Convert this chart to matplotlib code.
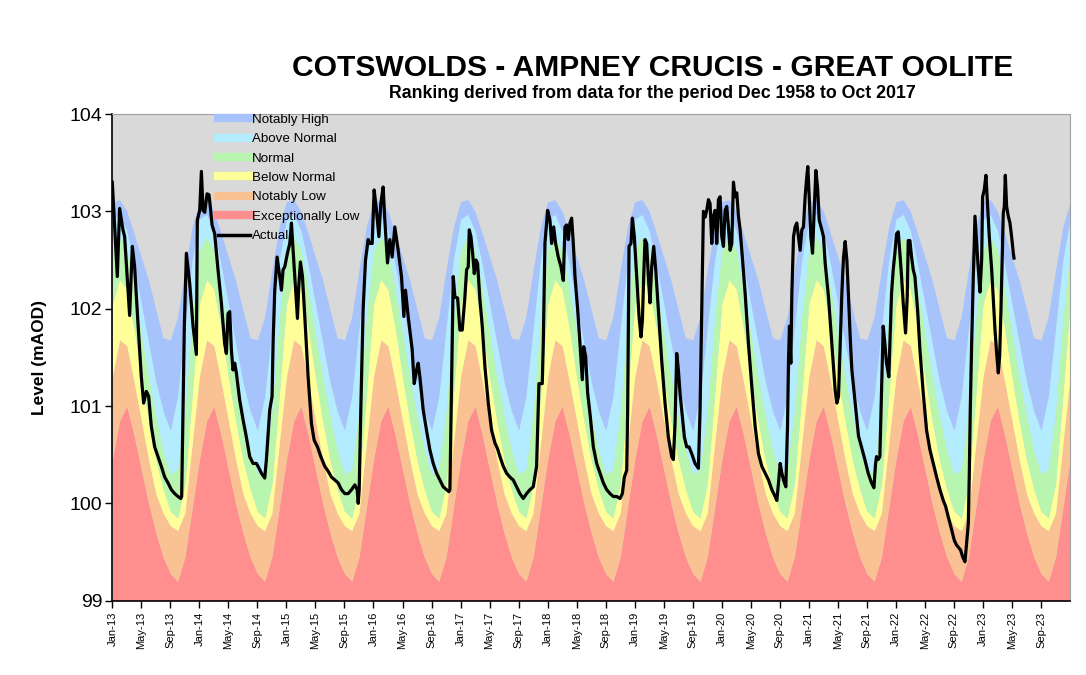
import numpy as np
import matplotlib.pyplot as plt
from matplotlib.lines import Line2D

plt.rcParams['font.family'] = ['Liberation Sans', 'DejaVu Sans']

# band upper limits (mAOD) at the start of each month, Jan..Dec (same every year)
el_top = [100.45, 100.85, 101.00, 100.70, 100.35, 100.00, 99.70, 99.45, 99.28, 99.20, 99.45, 99.95]
nl_top = [101.30, 101.68, 101.62, 101.25, 100.85, 100.45, 100.10, 99.90, 99.77, 99.72, 99.90, 100.60]
bn_top = [102.05, 102.30, 102.20, 101.80, 101.30, 100.85, 100.45, 100.15, 99.92, 99.85, 100.20, 101.10]
n_top = [102.60, 102.74, 102.60, 102.20, 101.75, 101.30, 100.90, 100.55, 100.30, 100.35, 100.95, 101.90]
an_top = [102.92, 102.97, 102.80, 102.45, 102.05, 101.65, 101.25, 100.95, 100.75, 101.10, 101.80, 102.50]
nh_top = [103.10, 103.12, 103.00, 102.77, 102.53, 102.29, 101.99, 101.70, 101.68, 101.92, 102.40, 102.84]
n_years = 11

# actual level: months since Jan 2013, level (mAOD)
actual_month = [
    0.00, 0.69, 1.01, 1.47, 1.70, 2.39, 2.76, 3.08, 3.54, 4.00, 4.32, 4.69, 5.01, 5.38, 5.84,
    6.30, 6.76, 7.22, 7.68, 8.14, 8.60, 9.06, 9.43, 9.56, 9.93, 10.21, 10.67, 11.13, 11.59, 11.72,
    12.05, 12.28, 12.51, 12.74, 13.06, 13.33, 13.56, 13.75, 14.11, 14.57, 15.03, 15.49, 15.72, 15.95,
    16.18, 16.41, 16.64, 16.87, 17.10, 17.56, 18.02, 18.48, 18.94, 19.40, 19.86,
    20.09, 20.55, 21.01, 21.24, 21.70, 22.02, 22.16, 22.39, 22.71, 23.08, 23.31, 23.54, 23.77, 24.14,
    24.46, 24.69, 24.92, 25.24, 25.52, 25.70, 25.93, 26.21, 26.53, 26.99, 27.45, 27.82, 28.28, 28.74,
    29.29, 29.75, 30.21, 30.67, 31.13, 31.59, 32.05, 32.51, 32.97, 33.43, 33.75, 33.89, 34.03, 34.25,
    34.57, 34.90, 35.26, 35.49, 35.82, 36.09, 36.41, 36.74, 37.01, 37.33, 37.56, 37.93, 38.25, 38.57,
    38.94, 39.40, 39.86, 40.18, 40.41, 40.78,
    41.33, 41.61, 41.93, 42.16, 42.39, 42.85, 43.31, 43.77, 44.23, 44.69, 45.15, 45.61, 46.07, 46.39,
    46.53, 46.99, 47.22, 47.59, 47.91, 48.23, 48.60, 48.83, 49.06, 49.20, 49.43, 49.66, 49.89, 50.11,
    50.34, 50.67, 50.99, 51.36, 51.82, 52.28, 52.74, 53.10, 53.43, 53.89, 54.34, 54.80, 55.26, 55.72,
    56.18, 56.64, 57.10, 57.56, 58.02, 58.48, 58.80, 59.26, 59.40, 59.63, 60.00, 60.32, 60.55, 60.83,
    61.10, 61.47,
    61.84, 62.16, 62.39, 62.62, 62.85, 63.08, 63.31, 63.54, 63.77, 64.14, 64.46, 64.78, 64.97, 65.24,
    65.52, 65.84, 66.30, 66.76, 67.22, 67.68, 68.14, 68.60, 69.06, 69.52, 69.98, 70.30, 70.57, 70.90,
    71.03, 71.22, 71.49, 71.68, 71.95, 72.28, 72.60, 72.87, 73.06, 73.24, 73.42, 73.65, 73.88, 74.11,
    74.34, 74.62, 74.90, 75.26, 75.72, 76.18, 76.64, 77.10, 77.33, 77.56, 77.79, 78.02, 78.25, 78.57,
    78.85, 79.17, 79.49, 79.86, 80.32, 80.78, 81.01, 81.24, 81.47, 81.70, 81.93, 82.16,
    82.39, 82.62, 82.85, 83.08, 83.31, 83.54, 83.77, 84.00, 84.23, 84.46, 84.69, 84.92, 85.15, 85.38,
    85.61, 85.84, 86.07, 86.30, 86.53, 86.76, 87.22, 87.68, 88.14, 88.60, 89.06, 89.52, 89.98, 90.44,
    90.90, 91.36, 91.59, 91.82, 92.05, 92.28, 92.51, 92.83, 93.06, 93.20, 93.33, 93.52, 93.66, 93.89,
    94.11, 94.34, 94.57, 94.80, 95.03, 95.26, 95.49, 95.72, 95.86, 96.05, 96.28, 96.51, 96.74, 96.97,
    97.20, 97.43, 97.79, 98.02, 98.25, 98.71, 99.17, 99.63, 99.86, 100.09, 100.32, 100.55, 100.78,
    101.01, 101.24, 101.47, 101.70, 101.93, 102.39, 102.85,
    103.26, 103.72, 104.18, 104.64, 104.97, 105.20, 105.33, 105.56, 105.79, 106.02, 106.25, 106.48,
    106.71, 107.03, 107.17, 107.40, 107.63, 107.86, 108.09, 108.32, 108.55, 108.78, 109.01, 109.33,
    109.56, 109.70, 109.93, 110.16, 110.39, 110.62, 110.99, 111.31, 111.77, 112.23, 112.69, 113.15,
    113.61, 114.07, 114.53, 114.85, 115.22, 115.68, 116.05, 116.37, 116.60, 116.92, 117.20, 117.52,
    117.75, 117.98, 118.11, 118.25, 118.44, 118.67, 118.90, 119.13, 119.36, 119.59, 119.82, 119.95,
    120.18, 120.41, 120.64, 120.87, 121.20, 121.43, 121.66, 121.89, 122.11, 122.30, 122.48, 122.67,
    122.80, 122.94, 123.08, 123.26, 123.49, 123.72, 123.95, 124.18, 124.28,
]
actual_level = [
    103.30, 102.33, 103.03, 102.81, 102.74, 101.93, 102.64, 102.43, 101.85, 101.30, 101.03, 101.15,
    101.10, 100.79, 100.58, 100.48, 100.38, 100.27, 100.21, 100.14, 100.10, 100.07, 100.05, 100.07,
    101.82, 102.57, 102.26, 101.82, 101.53, 102.91, 103.01, 103.41, 103.01, 102.99, 103.18, 103.17,
    103.01, 102.86, 102.77, 102.40, 102.06, 101.64, 101.54, 101.95, 101.97, 101.58, 101.37, 101.44,
    101.34, 101.06, 100.86, 100.68, 100.48, 100.41, 100.41,
    100.38, 100.31, 100.26, 100.45, 100.96, 101.10, 101.64, 102.19, 102.53, 102.33, 102.19, 102.40,
    102.43, 102.57, 102.67, 102.88, 102.60, 102.23, 101.90, 102.23, 102.48, 102.33, 101.92, 101.30,
    100.82, 100.65, 100.58, 100.48, 100.38, 100.33, 100.27, 100.24, 100.21, 100.14, 100.10, 100.10,
    100.14, 100.19, 100.14, 100.00, 100.14, 100.96, 101.99, 102.50, 102.71, 102.67, 102.67, 103.22,
    103.01, 102.74, 103.08, 103.25, 102.91, 102.47, 102.71, 102.53, 102.84, 102.60, 102.33, 101.92,
    102.19, 101.92,
    101.58, 101.23, 101.37, 101.44, 101.30, 100.96, 100.75, 100.55, 100.41, 100.31, 100.24, 100.17,
    100.14, 100.12, 100.14, 102.33, 102.12, 102.11, 101.78, 101.78, 102.12, 102.40, 102.43, 102.81,
    102.74, 102.57, 102.36, 102.50, 102.47, 102.09, 101.82, 101.40, 101.03, 100.75, 100.62, 100.56,
    100.48, 100.38, 100.31, 100.27, 100.24, 100.17, 100.10, 100.05, 100.10, 100.14, 100.17, 100.38,
    101.23, 101.23, 101.64, 102.67, 103.01, 102.91, 102.67, 102.84, 102.67, 102.53,
    102.43, 102.29, 102.84, 102.86, 102.71, 102.88, 102.93, 102.67, 102.33, 101.99, 101.64, 101.27,
    101.61, 101.51, 101.13, 100.92, 100.58, 100.41, 100.31, 100.21, 100.14, 100.10, 100.07, 100.07,
    100.05, 100.10, 100.27, 100.34, 100.96, 102.64, 102.67, 102.93, 102.74, 102.33, 101.92, 101.71,
    101.88, 102.33, 102.71, 102.67, 102.33, 102.06, 102.43, 102.64, 102.40, 101.99, 101.47, 101.03,
    100.68, 100.48, 100.45, 100.82, 101.54, 101.37, 101.13, 100.89, 100.68, 100.58, 100.58, 100.51,
    100.41, 100.36, 100.96, 101.99, 103.00, 102.94, 103.01, 103.12,
    103.08, 102.67, 102.95, 103.01, 102.67, 103.12, 103.15, 102.74, 102.64, 103.01, 103.05, 102.84,
    102.60, 102.67, 103.30, 103.15, 103.19, 102.95, 102.81, 102.60, 102.16, 101.64, 101.20, 100.79,
    100.51, 100.38, 100.31, 100.24, 100.14, 100.07, 100.03, 100.21, 100.41, 100.31, 100.24, 100.17,
    100.79, 101.47, 101.82, 101.44, 102.16, 102.74, 102.84, 102.88, 102.74, 102.60, 102.81, 102.84,
    103.15, 103.36, 103.46, 103.15, 102.74, 102.57, 103.01, 103.42, 103.25, 102.91, 102.81, 102.74,
    102.47, 102.12, 101.64, 101.16, 101.03, 101.10, 101.64, 102.16, 102.53, 102.69, 102.50, 102.12,
    101.71, 101.37, 101.03, 100.69,
    100.58, 100.45, 100.31, 100.21, 100.16, 100.41, 100.48, 100.45, 100.48, 101.13, 101.82, 101.64,
    101.44, 101.30, 101.64, 102.16, 102.40, 102.57, 102.77, 102.79, 102.57, 102.33, 102.06, 101.75,
    102.12, 102.70, 102.70, 102.53, 102.40, 102.33, 101.99, 101.58, 101.13, 100.75, 100.55, 100.41,
    100.27, 100.14, 100.03, 99.97, 99.86, 99.73, 99.62, 99.57, 99.55, 99.52, 99.45, 99.40,
    99.59, 99.79, 100.27, 100.96, 101.64, 102.33, 102.95, 102.67, 102.40, 102.17, 102.50, 103.15,
    103.22, 103.37, 103.05, 102.74, 102.40, 102.09, 101.78, 101.54, 101.34, 101.51, 101.99, 102.57,
    102.98, 103.05, 103.37, 103.05, 102.95, 102.88, 102.74, 102.57, 102.52,
]

tick_months = ['Jan', 'May', 'Sep']
tick_years = list(range(13, 24))

band_names = ['Exceptionally Low', 'Notably Low', 'Below Normal', 'Normal', 'Above Normal', 'Notably High']
band_colors = ['#ff8f8f', '#fac192', '#ffff99', '#b8f5ae', '#b3ecff', '#a6c3fc']

# monthly band limits over the whole period, plus the closing January
band_month = np.arange(12 * n_years + 1)
tops = []
for t in [el_top, nl_top, bn_top, n_top, an_top, nh_top]:
    tops.append(np.append(np.tile(t, n_years), t[0]))

fig = plt.figure(figsize=(10.86, 6.75), dpi=100)
ax = fig.add_axes([0.1034, 0.1101, 0.8819, 0.7210])
ax.set_facecolor('#d9d9d9')

lower = np.full(len(band_month), 99.0)
for top, c in zip(tops, band_colors):
    ax.fill_between(band_month, lower, top, color=c, lw=0)
    lower = top

ax.plot(actual_month, actual_level, color='black', lw=2.3, solid_joinstyle='round')

ax.set_xlim(0, 12 * n_years)
ax.set_ylim(99, 104)
ax.set_yticks([99, 100, 101, 102, 103, 104])
ax.tick_params(axis='y', labelsize=14, direction='out', length=5, width=1, pad=2)

xt = []
xl = []
for i, yy in enumerate(tick_years):
    for j, mm in enumerate(tick_months):
        xt.append(i * 12 + j * 4)
        xl.append('%s-%02d' % (mm, yy))
ax.set_xticks(xt)
ax.set_xticklabels(xl, rotation=90, fontsize=8)
ax.tick_params(axis='x', direction='out', length=5, width=1, pad=3)

for s in ['top', 'right']:
    ax.spines[s].set_color('#a0a0a0')
for s in ['left', 'bottom']:
    ax.spines[s].set_color('black')
    ax.spines[s].set_linewidth(1.2)

fig.text(0.036, 0.471, 'Level (mAOD)', rotation=90, ha='center', va='center',
         fontsize=12.5, fontweight='bold')

handles = [Line2D([0], [0], color=c, lw=6) for c in band_colors[::-1]]
handles.append(Line2D([0], [0], color='black', lw=2.5))
labels = band_names[::-1] + ['Actual']
leg = ax.legend(handles, labels, loc='upper left', bbox_to_anchor=(0.105, 1.012), frameon=False,
                fontsize=9.6, handlelength=2.4, handletextpad=0.1, labelspacing=0.53, borderaxespad=0)

fig.text(0.601, 0.900, 'COTSWOLDS - AMPNEY CRUCIS - GREAT OOLITE', ha='center', va='center',
         fontsize=21.6, fontweight='bold')
fig.text(0.601, 0.862, 'Ranking derived from data for the period Dec 1958 to Oct 2017', ha='center',
         va='center', fontsize=12.8, fontweight='bold')

fig.savefig('out.png', dpi=100)
